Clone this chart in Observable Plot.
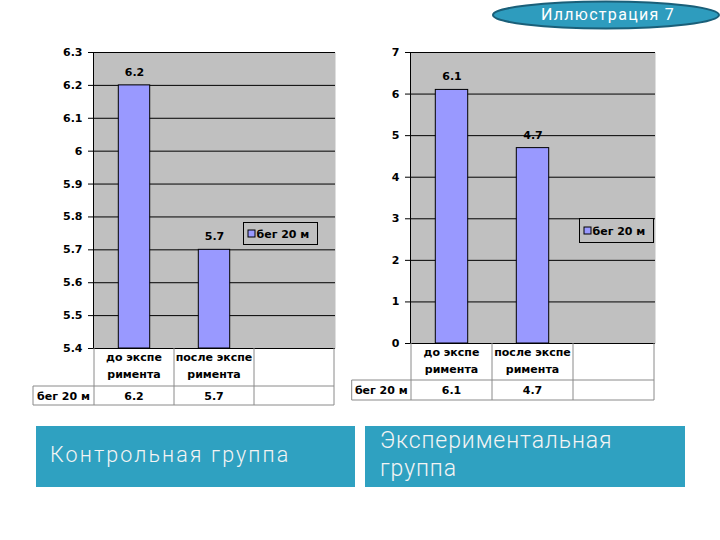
<!DOCTYPE html>
<html><head><meta charset="utf-8">
<script src="https://cdn.jsdelivr.net/npm/d3@7"></script>
<script src="https://cdn.jsdelivr.net/npm/@observablehq/plot@0.6"></script>
<style>
body{margin:0;background:#fff;}
#page{position:relative;width:720px;height:540px;overflow:hidden;background:#fff;}
#page svg{position:absolute;top:0;}
</style></head><body><div id="page"></div>
<script>
// ---- data ----
const categories = ["до экспе римента", "после экспе римента", ""];
const categoryLines = [["до экспе", "римента"], ["после экспе", "римента"], []];
const seriesName = "бег 20 м";
const controlValues = [6.2, 5.7];
const experimentValues = [6.1, 4.7];
const controlTicks = [5.4, 5.5, 5.6, 5.7, 5.8, 5.9, 6.0, 6.1, 6.2, 6.3];
const experimentTicks = [0, 1, 2, 3, 4, 5, 6, 7];
const captionControl = ["Контрольная группа"];
const captionExperiment = ["Экспериментальная", "группа"];
const badgeText = "Иллюстрация 7";

const page = document.getElementById("page");
const FONT = "DejaVu Sans";
const FS = "11px";

function chart(cfg) {
  const data = cfg.values.map((v, i) => ({cat: categories[i], value: v}));
  const yMin = cfg.ticks[0], yMax = cfg.ticks[cfg.ticks.length - 1];
  const fmt = d => String(+d.toFixed(1));
  const svg = Plot.plot({
    width: cfg.width, height: 420,
    marginLeft: cfg.ml, marginRight: cfg.mr, marginTop: 52, marginBottom: cfg.mb,
    style: {background: "transparent", fontFamily: FONT, fontSize: FS, fontWeight: "bold", color: "black"},
    x: {type: "band", domain: categories, padding: 0, axis: null},
    y: {domain: [yMin, yMax]},
    marks: [
      Plot.frame({fill: "#c0c0c0", stroke: null}),
      Plot.ruleY(cfg.ticks, {stroke: "black", strokeWidth: 1}),
      Plot.axisY(cfg.ticks, {tickSize: 5, tickPadding: 6, tickFormat: fmt, label: null, stroke: "black", strokeOpacity: 1}),
      Plot.barY(data, {x: "cat", y1: yMin, y2: "value", fill: "#9999ff", stroke: "black", strokeWidth: 1, insetLeft: cfg.inset, insetRight: cfg.inset}),
      Plot.text(data, {x: "cat", y: "value", text: d => fmt(d.value), dy: -13}),
      Plot.frame({anchor: "left", stroke: "black"})
    ]
  });
  svg.style.left = cfg.left + "px";
  const xs = svg.scale("x");
  const bw = xs.bandwidth;
  const starts = categories.map(c => xs.apply(c));
  const xR = starts[starts.length - 1] + bw;
  const top = 420 - cfg.mb, mid = top + cfg.headH, bot = mid + cfg.rowH;
  const g = d3.select(svg).append("g").attr("font-family", FONT).attr("font-weight", "bold").attr("font-size", FS);
  const lc = "#8a8a8a";
  [...starts, xR].forEach(x => g.append("line").attr("x1", x).attr("x2", x).attr("y1", top).attr("y2", bot).attr("stroke", lc));
  g.append("line").attr("x1", cfg.tl).attr("x2", cfg.tl).attr("y1", mid).attr("y2", bot).attr("stroke", lc);
  g.append("line").attr("x1", cfg.tl).attr("x2", xR).attr("y1", mid).attr("y2", mid).attr("stroke", lc);
  g.append("line").attr("x1", cfg.tl).attr("x2", xR).attr("y1", bot).attr("y2", bot).attr("stroke", lc);
  categories.forEach((c, i) => {
    categoryLines[i].forEach((t, j) => {
      g.append("text").attr("x", starts[i] + bw / 2).attr("y", top + 13 + j * 17).attr("text-anchor", "middle").text(t);
    });
  });
  g.append("text").attr("x", (cfg.tl + starts[0]) / 2).attr("y", mid + cfg.rowH / 2 + 4).attr("text-anchor", "middle").text(seriesName);
  data.forEach((d, i) => {
    g.append("text").attr("x", starts[i] + bw / 2).attr("y", mid + cfg.rowH / 2 + 4).attr("text-anchor", "middle").text(fmt(d.value));
  });
  const [lx, ly, lw, lh] = cfg.legend;
  g.append("rect").attr("x", lx).attr("y", ly).attr("width", lw).attr("height", lh).attr("fill", "#c0c0c0").attr("stroke", "black");
  g.append("rect").attr("x", lx + 4.5).attr("y", ly + lh / 2 - 3.5).attr("width", 7).attr("height", 7).attr("fill", "#9999ff").attr("stroke", "black");
  g.append("text").attr("x", lx + 13).attr("y", ly + lh / 2 + 4).attr("text-anchor", "start").text(seriesName);
  page.appendChild(svg);
}

chart({values: controlValues, ticks: controlTicks, left: 0, width: 350, ml: 93, mr: 15, mb: 72, inset: 24.3, tl: 33, headH: 38, rowH: 19, legend: [243.5, 222.5, 74, 22]});
chart({values: experimentValues, ticks: experimentTicks, left: 350, width: 370, ml: 60, mr: 65, mb: 77, inset: 24.3, tl: 1.7, headH: 37, rowH: 20, legend: [229.5, 218.5, 74, 24]});

// decorations: caption boxes and badge
const deco = d3.select(page).append("svg").attr("width", 720).attr("height", 540).style("left", "0px");
const CF = "Roboto";
deco.append("rect").attr("x", 36).attr("y", 426).attr("width", 319).attr("height", 61).attr("fill", "#2fa1c1");
captionControl.forEach((t, i) => deco.append("text").attr("x", 50).attr("y", 462 + i * 26).attr("font-family", CF).attr("font-weight", 300).attr("font-size", 21.5).attr("letter-spacing", 2.1).attr("fill", "#f4f4f4").text(t));
deco.append("rect").attr("x", 365).attr("y", 426).attr("width", 320).attr("height", 61).attr("fill", "#2fa1c1");
captionExperiment.forEach((t, i) => deco.append("text").attr("x", 380).attr("y", 448 + i * 27.5).attr("font-family", CF).attr("font-weight", 300).attr("font-size", 23).attr("letter-spacing", 0.9).attr("fill", "#f4f4f4").text(t));
deco.append("ellipse").attr("cx", 606).attr("cy", 15).attr("rx", 113).attr("ry", 13.5).attr("fill", "#2e9cbe").attr("stroke", "#1a5f79").attr("stroke-width", 2);
deco.append("text").attr("x", 608).attr("y", 20).attr("text-anchor", "middle").attr("font-family", CF).attr("font-size", 16).attr("letter-spacing", 1.3).attr("fill", "#ffffff").text(badgeText);
</script>
</body></html>
